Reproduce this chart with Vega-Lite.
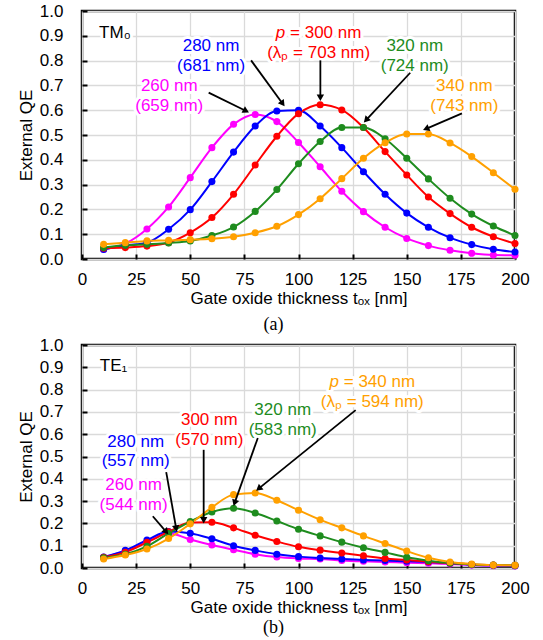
{
  "$schema": "https://vega.github.io/schema/vega-lite/v6.json",
  "background": "white",
  "padding": {"left": 16, "top": 0, "right": 5, "bottom": 2},
  "bounds": "flush",
  "spacing": 86,
  "config": {
    "font": "Liberation Sans",
    "view": {"stroke": "black", "strokeWidth": 2.5},
    "axis": {
      "labelFont": "Liberation Sans", "labelFontSize": 17, "labelColor": "black",
      "titleFont": "Liberation Sans", "titleFontSize": 17, "titleFontWeight": "normal", "titleColor": "black",
      "gridColor": "#DADADA", "gridWidth": 1.3, "domain": false,
      "tickColor": "black", "tickSize": -5, "tickWidth": 2,
      "labelFlush": false, "labelOverlap": false
    },
    "axisX": {"labelPadding": 17, "titlePadding": 3},
    "axisY": {"labelPadding": 24, "titlePadding": 4}
  },
  "datasets": {
    "tm": [
      {"p":"260","t":10,"qe":0.039},{"p":"260","t":20,"qe":0.062},{"p":"260","t":30,"qe":0.121},{"p":"260","t":40,"qe":0.21},{"p":"260","t":50,"qe":0.328},{"p":"260","t":60,"qe":0.449},{"p":"260","t":70,"qe":0.543},{"p":"260","t":80,"qe":0.583},{"p":"260","t":90,"qe":0.554},{"p":"260","t":100,"qe":0.47},{"p":"260","t":110,"qe":0.372},{"p":"260","t":120,"qe":0.273},{"p":"260","t":130,"qe":0.191},{"p":"260","t":140,"qe":0.128},{"p":"260","t":150,"qe":0.083},{"p":"260","t":160,"qe":0.054},{"p":"260","t":170,"qe":0.035},{"p":"260","t":180,"qe":0.023},{"p":"260","t":190,"qe":0.016},{"p":"260","t":200,"qe":0.015},
      {"p":"280","t":10,"qe":0.038},{"p":"280","t":20,"qe":0.055},{"p":"280","t":30,"qe":0.066},{"p":"280","t":40,"qe":0.12},{"p":"280","t":50,"qe":0.199},{"p":"280","t":60,"qe":0.312},{"p":"280","t":70,"qe":0.431},{"p":"280","t":80,"qe":0.536},{"p":"280","t":90,"qe":0.597},{"p":"280","t":100,"qe":0.6},{"p":"280","t":110,"qe":0.536},{"p":"280","t":120,"qe":0.449},{"p":"280","t":130,"qe":0.352},{"p":"280","t":140,"qe":0.261},{"p":"280","t":150,"qe":0.185},{"p":"280","t":160,"qe":0.128},{"p":"280","t":170,"qe":0.086},{"p":"280","t":180,"qe":0.058},{"p":"280","t":190,"qe":0.039},{"p":"280","t":200,"qe":0.028},
      {"p":"300","t":10,"qe":0.043},{"p":"300","t":20,"qe":0.046},{"p":"300","t":30,"qe":0.052},{"p":"300","t":40,"qe":0.066},{"p":"300","t":50,"qe":0.106},{"p":"300","t":60,"qe":0.167},{"p":"300","t":70,"qe":0.261},{"p":"300","t":80,"qe":0.379},{"p":"300","t":90,"qe":0.495},{"p":"300","t":100,"qe":0.586},{"p":"300","t":110,"qe":0.622},{"p":"300","t":120,"qe":0.601},{"p":"300","t":130,"qe":0.53},{"p":"300","t":140,"qe":0.433},{"p":"300","t":150,"qe":0.339},{"p":"300","t":160,"qe":0.25},{"p":"300","t":170,"qe":0.183},{"p":"300","t":180,"qe":0.128},{"p":"300","t":190,"qe":0.09},{"p":"300","t":200,"qe":0.062},
      {"p":"320","t":10,"qe":0.046},{"p":"320","t":20,"qe":0.055},{"p":"320","t":30,"qe":0.059},{"p":"320","t":40,"qe":0.065},{"p":"320","t":50,"qe":0.073},{"p":"320","t":60,"qe":0.095},{"p":"320","t":70,"qe":0.129},{"p":"320","t":80,"qe":0.192},{"p":"320","t":90,"qe":0.28},{"p":"320","t":100,"qe":0.384},{"p":"320","t":110,"qe":0.474},{"p":"320","t":120,"qe":0.53},{"p":"320","t":130,"qe":0.53},{"p":"320","t":140,"qe":0.485},{"p":"320","t":150,"qe":0.406},{"p":"320","t":160,"qe":0.323},{"p":"320","t":170,"qe":0.245},{"p":"320","t":180,"qe":0.181},{"p":"320","t":190,"qe":0.133},{"p":"320","t":200,"qe":0.095},
      {"p":"340","t":10,"qe":0.059},{"p":"340","t":20,"qe":0.066},{"p":"340","t":30,"qe":0.073},{"p":"340","t":40,"qe":0.075},{"p":"340","t":50,"qe":0.078},{"p":"340","t":60,"qe":0.082},{"p":"340","t":70,"qe":0.09},{"p":"340","t":80,"qe":0.106},{"p":"340","t":90,"qe":0.132},{"p":"340","t":100,"qe":0.179},{"p":"340","t":110,"qe":0.243},{"p":"340","t":120,"qe":0.324},{"p":"340","t":130,"qe":0.406},{"p":"340","t":140,"qe":0.469},{"p":"340","t":150,"qe":0.504},{"p":"340","t":160,"qe":0.504},{"p":"340","t":170,"qe":0.468},{"p":"340","t":180,"qe":0.413},{"p":"340","t":190,"qe":0.348},{"p":"340","t":200,"qe":0.281}
    ],
    "te": [
      {"p":"260","t":10,"qe":0.048},{"p":"260","t":20,"qe":0.076},{"p":"260","t":30,"qe":0.118},{"p":"260","t":40,"qe":0.156},{"p":"260","t":50,"qe":0.128},{"p":"260","t":60,"qe":0.103},{"p":"260","t":70,"qe":0.082},{"p":"260","t":80,"qe":0.062},{"p":"260","t":90,"qe":0.049},{"p":"260","t":100,"qe":0.043},{"p":"260","t":110,"qe":0.04},{"p":"260","t":120,"qe":0.034},{"p":"260","t":130,"qe":0.03},{"p":"260","t":140,"qe":0.027},{"p":"260","t":150,"qe":0.024},{"p":"260","t":160,"qe":0.021},{"p":"260","t":170,"qe":0.018},{"p":"260","t":180,"qe":0.013},{"p":"260","t":190,"qe":0.01},{"p":"260","t":200,"qe":0.009},
      {"p":"280","t":10,"qe":0.049},{"p":"280","t":20,"qe":0.079},{"p":"280","t":30,"qe":0.125},{"p":"280","t":40,"qe":0.164},{"p":"280","t":50,"qe":0.156},{"p":"280","t":60,"qe":0.131},{"p":"280","t":70,"qe":0.1},{"p":"280","t":80,"qe":0.079},{"p":"280","t":90,"qe":0.062},{"p":"280","t":100,"qe":0.051},{"p":"280","t":110,"qe":0.045},{"p":"280","t":120,"qe":0.04},{"p":"280","t":130,"qe":0.036},{"p":"280","t":140,"qe":0.034},{"p":"280","t":150,"qe":0.03},{"p":"280","t":160,"qe":0.027},{"p":"280","t":170,"qe":0.021},{"p":"280","t":180,"qe":0.015},{"p":"280","t":190,"qe":0.012},{"p":"280","t":200,"qe":0.01},
      {"p":"300","t":10,"qe":0.048},{"p":"300","t":20,"qe":0.071},{"p":"300","t":30,"qe":0.115},{"p":"300","t":40,"qe":0.162},{"p":"300","t":50,"qe":0.204},{"p":"300","t":60,"qe":0.205},{"p":"300","t":70,"qe":0.18},{"p":"300","t":80,"qe":0.147},{"p":"300","t":90,"qe":0.119},{"p":"300","t":100,"qe":0.095},{"p":"300","t":110,"qe":0.08},{"p":"300","t":120,"qe":0.067},{"p":"300","t":130,"qe":0.055},{"p":"300","t":140,"qe":0.043},{"p":"300","t":150,"qe":0.036},{"p":"300","t":160,"qe":0.028},{"p":"300","t":170,"qe":0.022},{"p":"300","t":180,"qe":0.016},{"p":"300","t":190,"qe":0.013},{"p":"300","t":200,"qe":0.012},
      {"p":"320","t":10,"qe":0.046},{"p":"320","t":20,"qe":0.062},{"p":"320","t":30,"qe":0.097},{"p":"320","t":40,"qe":0.155},{"p":"320","t":50,"qe":0.208},{"p":"320","t":60,"qe":0.251},{"p":"320","t":70,"qe":0.268},{"p":"320","t":80,"qe":0.247},{"p":"320","t":90,"qe":0.211},{"p":"320","t":100,"qe":0.174},{"p":"320","t":110,"qe":0.144},{"p":"320","t":120,"qe":0.116},{"p":"320","t":130,"qe":0.091},{"p":"320","t":140,"qe":0.07},{"p":"320","t":150,"qe":0.048},{"p":"320","t":160,"qe":0.033},{"p":"320","t":170,"qe":0.022},{"p":"320","t":180,"qe":0.016},{"p":"320","t":190,"qe":0.013},{"p":"320","t":200,"qe":0.012},
      {"p":"340","t":10,"qe":0.04},{"p":"340","t":20,"qe":0.058},{"p":"340","t":30,"qe":0.085},{"p":"340","t":40,"qe":0.132},{"p":"340","t":50,"qe":0.198},{"p":"340","t":60,"qe":0.272},{"p":"340","t":70,"qe":0.329},{"p":"340","t":80,"qe":0.336},{"p":"340","t":90,"qe":0.304},{"p":"340","t":100,"qe":0.259},{"p":"340","t":110,"qe":0.216},{"p":"340","t":120,"qe":0.18},{"p":"340","t":130,"qe":0.144},{"p":"340","t":140,"qe":0.11},{"p":"340","t":150,"qe":0.076},{"p":"340","t":160,"qe":0.046},{"p":"340","t":170,"qe":0.027},{"p":"340","t":180,"qe":0.018},{"p":"340","t":190,"qe":0.013},{"p":"340","t":200,"qe":0.012}
    ],
    "tmLabels": [
      {"p":"mode","t":15.2,"qe":0.911,"label":"TM₀"},
      {"p":"280","t":59.6,"qe":0.859,"label":"280 nm"},{"p":"280","t":59.6,"qe":0.778,"label":"(681 nm)"},
      {"p":"300","t":109.3,"qe":0.832,"label":"(λₚ = 703 nm)"},
      {"p":"320","t":153.7,"qe":0.859,"label":"320 nm"},{"p":"320","t":153.7,"qe":0.778,"label":"(724 nm)"},
      {"p":"260","t":40.3,"qe":0.698,"label":"260 nm"},{"p":"260","t":40.3,"qe":0.617,"label":"(659 nm)"},
      {"p":"340","t":176.6,"qe":0.698,"label":"340 nm"},{"p":"340","t":176.6,"qe":0.617,"label":"(743 nm)"}
    ],
    "tmPitch": [
      {"p":"300","t":89.5,"qe":0.913,"label":"p"},
      {"p":"300","t":96.1,"qe":0.913,"label":"= 300 nm"}
    ],
    "teLabels": [
      {"p":"mode","t":14.6,"qe":0.906,"label":"TE₁"},
      {"p":"340","t":134.1,"qe":0.746,"label":"(λₚ = 594 nm)"},
      {"p":"320","t":92.7,"qe":0.708,"label":"320 nm"},{"p":"320","t":92.7,"qe":0.619,"label":"(583 nm)"},
      {"p":"300","t":58.8,"qe":0.664,"label":"300 nm"},{"p":"300","t":58.8,"qe":0.575,"label":"(570 nm)"},
      {"p":"280","t":24.8,"qe":0.567,"label":"280 nm"},{"p":"280","t":24.8,"qe":0.478,"label":"(557 nm)"},
      {"p":"260","t":23.8,"qe":0.371,"label":"260 nm"},{"p":"260","t":23.8,"qe":0.281,"label":"(544 nm)"}
    ],
    "tePitch": [
      {"p":"340","t":114.3,"qe":0.835,"label":"p"},
      {"p":"340","t":120.9,"qe":0.835,"label":"= 340 nm"}
    ],
    "tmArrows": [
      {"t":58.5,"qe":0.671,"t2":75.8,"qe2":0.597,"heading":117},
      {"t":78.1,"qe":0.801,"t2":92.7,"qe2":0.626,"heading":144},
      {"t":110.1,"qe":0.801,"t2":110.1,"qe2":0.65,"heading":180},
      {"t":151.6,"qe":0.751,"t2":131.2,"qe2":0.56,"heading":223},
      {"t":175.5,"qe":0.587,"t2":158.9,"qe2":0.525,"heading":247}
    ],
    "teArrows": [
      {"t":126.4,"qe":0.708,"t2":81.6,"qe2":0.356,"heading":231},
      {"t":81.2,"qe":0.583,"t2":70.5,"qe2":0.292,"heading":199},
      {"t":56.2,"qe":0.53,"t2":56.2,"qe2":0.214,"heading":180},
      {"t":38.9,"qe":0.43,"t2":43.5,"qe2":0.177,"heading":170},
      {"t":32.7,"qe":0.232,"t2":38.9,"qe2":0.162,"heading":140}
    ]
  },
  "vconcat": [
    {
      "width": 433, "height": 248,
      "title": {"text": "(a)", "orient": "bottom", "font": "Liberation Serif", "fontSize": 18, "fontWeight": "normal", "color": "black", "offset": 10, "dx": -25},
      "encoding": {
        "x": {"field": "t", "type": "quantitative", "scale": {"domain": [0, 200], "nice": false}, "axis": {"title": "Gate oxide thickness tₒₓ [nm]", "values": [0,25,50,75,100,125,150,175,200]}},
        "y": {"field": "qe", "type": "quantitative", "scale": {"domain": [0, 1], "nice": false}, "axis": {"title": "External QE", "values": [0,0.1,0.2,0.3,0.4,0.5,0.6,0.7,0.8,0.9,1], "format": ".1f"}}
      },
      "layer": [
        {"data": {"name": "tm"}, "mark": {"type": "line", "interpolate": "monotone", "strokeWidth": 2},
         "encoding": {"color": {"field": "p", "type": "nominal", "scale": {"domain": ["260","280","300","320","340","mode"], "range": ["#FF00FF","#0000FF","#FF0000","#1E8C1E","#FFA000","#000000"]}, "legend": null}}},
        {"data": {"name": "tm"}, "mark": {"type": "point", "filled": true, "size": 50, "opacity": 1},
         "encoding": {"color": {"field": "p", "type": "nominal", "legend": null}}},
        {"data": {"name": "tmLabels"}, "mark": {"type": "text", "fontSize": 17, "fill": "white", "stroke": "white", "strokeWidth": 6, "strokeJoin": "round"},
         "encoding": {"text": {"field": "label"}}},
        {"data": {"name": "tmPitch"}, "transform": [{"filter": "datum.label == 'p'"}], "mark": {"type": "text", "fontSize": 17, "fontStyle": "italic", "align": "left", "fill": "white", "stroke": "white", "strokeWidth": 6, "strokeJoin": "round"},
         "encoding": {"text": {"field": "label"}}},
        {"data": {"name": "tmPitch"}, "transform": [{"filter": "datum.label != 'p'"}], "mark": {"type": "text", "fontSize": 17, "align": "left", "fill": "white", "stroke": "white", "strokeWidth": 6, "strokeJoin": "round"},
         "encoding": {"text": {"field": "label"}}},
        {"data": {"name": "tmArrows"}, "mark": {"type": "rule", "color": "black", "strokeWidth": 1.8},
         "encoding": {"x2": {"field": "t2"}, "y2": {"field": "qe2"}}},
        {"data": {"name": "tmArrows"}, "mark": {"type": "point", "shape": "triangle-up", "filled": true, "color": "black", "size": 55, "opacity": 1},
         "encoding": {"x": {"field": "t2", "type": "quantitative"}, "y": {"field": "qe2", "type": "quantitative"}, "angle": {"field": "heading", "type": "quantitative", "scale": null}}},
        {"data": {"name": "tmLabels"}, "mark": {"type": "text", "fontSize": 17},
         "encoding": {"text": {"field": "label"}, "color": {"field": "p", "type": "nominal", "legend": null}}},
        {"data": {"name": "tmPitch"}, "transform": [{"filter": "datum.label == 'p'"}], "mark": {"type": "text", "fontSize": 17, "fontStyle": "italic", "align": "left"},
         "encoding": {"text": {"field": "label"}, "color": {"field": "p", "type": "nominal", "legend": null}}},
        {"data": {"name": "tmPitch"}, "transform": [{"filter": "datum.label != 'p'"}], "mark": {"type": "text", "fontSize": 17, "align": "left"},
         "encoding": {"text": {"field": "label"}, "color": {"field": "p", "type": "nominal", "legend": null}}}
      ]
    },
    {
      "width": 433, "height": 223,
      "title": {"text": "(b)", "orient": "bottom", "font": "Liberation Serif", "fontSize": 18, "fontWeight": "normal", "color": "black", "offset": 4, "dx": -25},
      "encoding": {
        "x": {"field": "t", "type": "quantitative", "scale": {"domain": [0, 200], "nice": false}, "axis": {"title": "Gate oxide thickness tₒₓ [nm]", "values": [0,25,50,75,100,125,150,175,200]}},
        "y": {"field": "qe", "type": "quantitative", "scale": {"domain": [0, 1], "nice": false}, "axis": {"title": "External QE", "values": [0,0.1,0.2,0.3,0.4,0.5,0.6,0.7,0.8,0.9,1], "format": ".1f"}}
      },
      "layer": [
        {"data": {"name": "te"}, "mark": {"type": "line", "interpolate": "monotone", "strokeWidth": 2},
         "encoding": {"color": {"field": "p", "type": "nominal", "scale": {"domain": ["260","280","300","320","340","mode"], "range": ["#FF00FF","#0000FF","#FF0000","#1E8C1E","#FFA000","#000000"]}, "legend": null}}},
        {"data": {"name": "te"}, "mark": {"type": "point", "filled": true, "size": 50, "opacity": 1},
         "encoding": {"color": {"field": "p", "type": "nominal", "legend": null}}},
        {"data": {"name": "teLabels"}, "mark": {"type": "text", "fontSize": 17, "fill": "white", "stroke": "white", "strokeWidth": 6, "strokeJoin": "round"},
         "encoding": {"text": {"field": "label"}}},
        {"data": {"name": "tePitch"}, "transform": [{"filter": "datum.label == 'p'"}], "mark": {"type": "text", "fontSize": 17, "fontStyle": "italic", "align": "left", "fill": "white", "stroke": "white", "strokeWidth": 6, "strokeJoin": "round"},
         "encoding": {"text": {"field": "label"}}},
        {"data": {"name": "tePitch"}, "transform": [{"filter": "datum.label != 'p'"}], "mark": {"type": "text", "fontSize": 17, "align": "left", "fill": "white", "stroke": "white", "strokeWidth": 6, "strokeJoin": "round"},
         "encoding": {"text": {"field": "label"}}},
        {"data": {"name": "teArrows"}, "mark": {"type": "rule", "color": "black", "strokeWidth": 1.8},
         "encoding": {"x2": {"field": "t2"}, "y2": {"field": "qe2"}}},
        {"data": {"name": "teArrows"}, "mark": {"type": "point", "shape": "triangle-up", "filled": true, "color": "black", "size": 55, "opacity": 1},
         "encoding": {"x": {"field": "t2", "type": "quantitative"}, "y": {"field": "qe2", "type": "quantitative"}, "angle": {"field": "heading", "type": "quantitative", "scale": null}}},
        {"data": {"name": "teLabels"}, "mark": {"type": "text", "fontSize": 17},
         "encoding": {"text": {"field": "label"}, "color": {"field": "p", "type": "nominal", "legend": null}}},
        {"data": {"name": "tePitch"}, "transform": [{"filter": "datum.label == 'p'"}], "mark": {"type": "text", "fontSize": 17, "fontStyle": "italic", "align": "left"},
         "encoding": {"text": {"field": "label"}, "color": {"field": "p", "type": "nominal", "legend": null}}},
        {"data": {"name": "tePitch"}, "transform": [{"filter": "datum.label != 'p'"}], "mark": {"type": "text", "fontSize": 17, "align": "left"},
         "encoding": {"text": {"field": "label"}, "color": {"field": "p", "type": "nominal", "legend": null}}}
      ]
    }
  ]
}
